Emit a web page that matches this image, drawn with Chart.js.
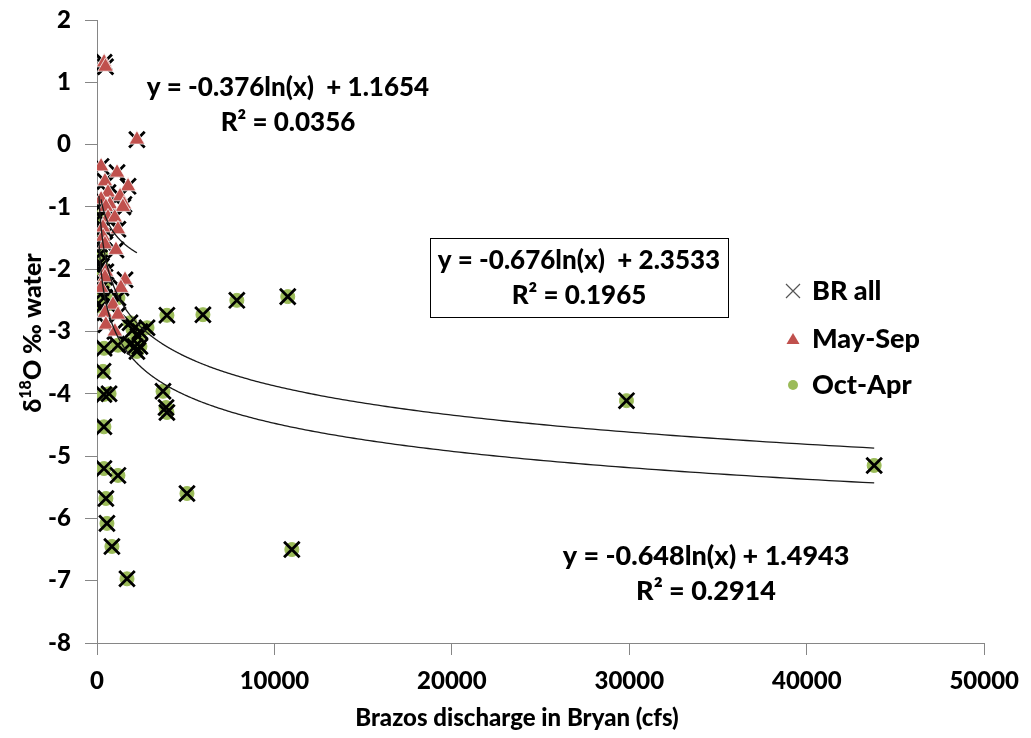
<!DOCTYPE html>
<html>
<head>
<meta charset="utf-8">
<script src="https://cdn.jsdelivr.net/npm/chart.js@4.4.1/dist/chart.umd.min.js"></script>
<style>
  html, body { margin: 0; padding: 0; background: #ffffff; }
  #wrap { width: 1031px; height: 738px; }
</style>
</head>
<body>
<div id="wrap"><canvas id="isoChart" width="1031" height="738"></canvas></div>
<script>
const FONT = "Lato, 'DejaVu Sans', sans-serif";

// discharge (cfs), d18O (permil)
const maySepPoints = [
  [400, 1.32], [480, 1.25], [2250, 0.08],
  [230, -0.35], [1130, -0.45], [450, -0.59], [1750, -0.67], [620, -0.77],
  [1300, -0.83], [230, -0.88], [730, -0.96], [1520, -0.96], [500, -1.0],
  [1460, -1.0], [620, -1.17], [1000, -1.17], [340, -1.33], [1180, -1.36],
  [340, -1.48], [450, -1.6], [1070, -1.69], [500, -2.04], [450, -2.13],
  [1580, -2.17], [230, -2.3], [1350, -2.3], [900, -2.57], [450, -2.7],
  [1180, -2.73], [500, -2.89], [1010, -3.0]
];

const octAprPoints = [
  [110, -1.0], [150, -1.15], [130, -1.3], [180, -1.45], [140, -1.6],
  [200, -1.75], [160, -1.9], [250, -1.95], [300, -2.05], [180, -2.2],
  [350, -2.25], [220, -2.4], [420, -2.45], [260, -2.6], [700, -2.55],
  [1180, -2.46], [1860, -2.86], [2030, -2.97], [2420, -3.0], [2820, -2.94],
  [2310, -3.08], [1860, -3.2], [2140, -3.24], [2420, -3.24], [2250, -3.32],
  [400, -3.27], [1180, -3.22],
  [340, -3.64], [390, -4.01], [680, -4.0], [3720, -3.96], [3890, -4.22],
  [3940, -4.3], [390, -4.53], [390, -5.2], [1180, -5.31], [5070, -5.6],
  [500, -5.68], [560, -6.08], [840, -6.45], [1690, -6.97], [10980, -6.5],
  [43800, -5.15], [29840, -4.11], [10750, -2.44], [7880, -2.5],
  [5970, -2.73], [3940, -2.74]
];

const brAllPoints = maySepPoints.concat(octAprPoints);

// logarithmic trendlines: y = a ln(x) + b
const trendSeries = [maySepPoints, brAllPoints, octAprPoints];
const trendSlopes = [-0.376, -0.676, -0.648];
const trendIntercepts = [1.1654, 2.3533, 1.4943];
const trendText = [
  ["y = -0.376ln(x)  + 1.1654", "R\u00b2 = 0.0356"],
  ["y = -0.676ln(x)  + 2.3533", "R\u00b2 = 0.1965"],
  ["y = -0.648ln(x) + 1.4943", "R\u00b2 = 0.2914"]
];

const legendNames = ["BR all", "May-Sep", "Oct-Apr"];

const xMin = 0, xMax = 50000, xStep = 10000;
const yMin = -8, yMax = 2, yStep = 1;

const RED = "#C0504D";
const GREEN = "#9BBB59";
const AXIS = "#868686";

const toXY = (pts) => pts.map(([x, y]) => ({ x, y }));

const trendPlugin = {
  id: "trendlines",
  afterDatasetsDraw(chart) {
    const { ctx, chartArea, scales } = chart;
    ctx.save();
    ctx.beginPath();
    ctx.rect(chartArea.left, chartArea.top, chartArea.width, chartArea.height);
    ctx.clip();
    ctx.strokeStyle = "#1a1a1a";
    ctx.lineWidth = 1.3;
    trendSeries.forEach((pts, i) => {
      const xs = pts.map((p) => p[0]);
      const lo = Math.min(...xs);
      const hi = Math.max(...xs);
      const n = 400;
      ctx.beginPath();
      for (let k = 0; k <= n; k++) {
        const xv = lo * Math.pow(hi / lo, k / n);
        const yv = trendSlopes[i] * Math.log(xv) + trendIntercepts[i];
        const px = scales.x.getPixelForValue(xv);
        const py = scales.y.getPixelForValue(yv);
        if (k === 0) ctx.moveTo(px, py);
        else ctx.lineTo(px, py);
      }
      ctx.stroke();
    });
    ctx.restore();
  }
};

function drawEquation(ctx, lines, cx, y1, y2, size) {
  ctx.font = `900 ${size}px ${FONT}`;
  ctx.fillStyle = "#000";
  ctx.textAlign = "center";
  ctx.textBaseline = "middle";
  ctx.fillText(lines[0], cx, y1);
  ctx.fillText(lines[1], cx, y2);
}

const labelPlugin = {
  id: "labels",
  afterDraw(chart) {
    const { ctx } = chart;
    ctx.save();

    drawEquation(ctx, trendText[0], 288, 88, 123, 26);
    drawEquation(ctx, trendText[1], 579, 261, 296, 26);
    ctx.strokeStyle = "#000";
    ctx.lineWidth = 1;
    ctx.strokeRect(430.5, 238.5, 298, 79);
    drawEquation(ctx, trendText[2], 706, 556, 591, 27);

    // legend
    const lx = 793;
    const rows = [291, 339, 385];
    ctx.font = `900 27px ${FONT}`;
    ctx.textAlign = "left";
    ctx.textBaseline = "middle";
    ctx.fillStyle = "#000";
    legendNames.forEach((t, i) => ctx.fillText(t, 812, rows[i]));

    ctx.strokeStyle = "#555";
    ctx.lineWidth = 1.2;
    ctx.beginPath();
    ctx.moveTo(lx - 7, rows[0] - 7); ctx.lineTo(lx + 7, rows[0] + 7);
    ctx.moveTo(lx + 7, rows[0] - 7); ctx.lineTo(lx - 7, rows[0] + 7);
    ctx.stroke();

    ctx.fillStyle = RED;
    ctx.beginPath();
    ctx.moveTo(lx, rows[1] - 6); ctx.lineTo(lx + 6.5, rows[1] + 5); ctx.lineTo(lx - 6.5, rows[1] + 5);
    ctx.closePath();
    ctx.fill();

    ctx.fillStyle = GREEN;
    ctx.beginPath();
    ctx.arc(lx, rows[2], 5, 0, Math.PI * 2);
    ctx.fill();

    // x axis title
    ctx.fillStyle = "#000";
    ctx.font = `900 24px ${FONT}`;
    ctx.textAlign = "center";
    ctx.textBaseline = "middle";
    ctx.fillText("Brazos discharge in Bryan (cfs)", 517, 718);

    // y axis title with superscript
    ctx.translate(32, 333);
    ctx.rotate(-Math.PI / 2);
    const big = `900 25px ${FONT}`;
    const small = `900 16px ${FONT}`;
    ctx.font = big;
    const wD = ctx.measureText("\u03b4").width;
    const wO = ctx.measureText("O \u2030 water").width;
    ctx.font = small;
    const wS = ctx.measureText("18").width;
    let px = -(wD + wS + wO) / 2;
    ctx.textAlign = "left";
    ctx.textBaseline = "alphabetic";
    ctx.font = big;
    ctx.fillText("\u03b4", px, 9);
    px += wD;
    ctx.font = small;
    ctx.fillText("18", px, -1);
    px += wS;
    ctx.font = big;
    ctx.fillText("O \u2030 water", px, 9);

    ctx.restore();
  }
};

new Chart(document.getElementById("isoChart"), {
  type: "scatter",
  data: {
    datasets: [
      {
        label: legendNames[0],
        data: toXY(brAllPoints),
        pointStyle: "crossRot",
        pointRadius: 11,
        pointBorderWidth: 2.8,
        pointBorderColor: "#000",
        pointBackgroundColor: "#000",
        order: 1
      },
      {
        label: legendNames[1],
        data: toXY(maySepPoints),
        pointStyle: "triangle",
        pointRadius: 9,
        pointBorderWidth: 1,
        pointBorderColor: "rgba(255,255,255,0.75)",
        pointBackgroundColor: RED,
        order: 0
      },
      {
        label: legendNames[2],
        data: toXY(octAprPoints),
        pointStyle: "circle",
        pointRadius: 7,
        pointBorderWidth: 1,
        pointBorderColor: GREEN,
        pointBackgroundColor: GREEN,
        order: 2
      }
    ]
  },
  options: {
    responsive: false,
    animation: false,
    events: [],
    layout: { padding: { left: 0, right: 46, top: 20, bottom: 0 } },
    plugins: {
      legend: { display: false },
      tooltip: { enabled: false }
    },
    scales: {
      x: {
        type: "linear",
        min: xMin,
        max: xMax,
        ticks: {
          stepSize: xStep,
          color: "#000",
          padding: 12,
          font: { family: FONT, size: 24, weight: "900" },
          callback: (v) => String(v)
        },
        grid: { drawOnChartArea: false, tickLength: 12, color: AXIS },
        border: { color: AXIS, width: 1 },
        afterFit: (s) => { s.height = 95; }
      },
      y: {
        type: "linear",
        min: yMin,
        max: yMax,
        ticks: {
          stepSize: yStep,
          color: "#000",
          padding: 14,
          font: { family: FONT, size: 24, weight: "900" },
          callback: (v) => String(v)
        },
        grid: { drawOnChartArea: false, tickLength: 12, color: AXIS },
        border: { color: AXIS, width: 1 },
        afterFit: (s) => {
          s.width = 97;
          s.paddingTop = 8;
          s.paddingBottom = 8;
        }
      }
    }
  },
  plugins: [trendPlugin, labelPlugin]
});
</script>
</body>
</html>
